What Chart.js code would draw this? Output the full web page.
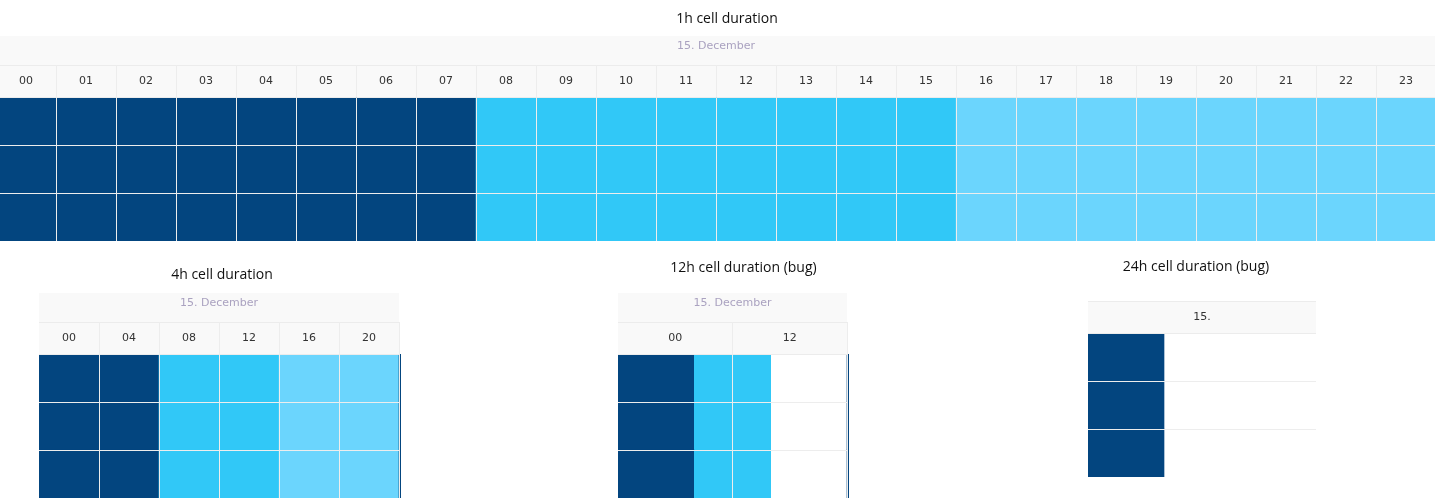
<!DOCTYPE html>
<html>
<head>
<meta charset="utf-8">
<script src="https://cdn.jsdelivr.net/npm/chart.js@4"></script>
<style>
  body { margin: 0; background: #fff; overflow: hidden; }
  canvas { position: absolute; }
</style>
</head>
<body>
<canvas id="c1h" width="1462" height="241" style="left:-4px;top:0px"></canvas>
<canvas id="c4h" width="366" height="243" style="left:39px;top:255px"></canvas>
<canvas id="c12h" width="251" height="243" style="left:618px;top:255px"></canvas>
<canvas id="c24h" width="240" height="222" style="left:1076px;top:255px"></canvas>
<script>
// rows of the heatmap (no labels shown)
const rowNames = ['Row 1', 'Row 2', 'Row 3'];
// 0 = night, 1 = day, 2 = evening
const levelColors = ['#03457f', '#31c8f7', '#6bd5fd'];
const dateLabel = '15. December';

// 1h cells
const labels1h = ['00','01','02','03','04','05','06','07','08','09','10','11','12','13','14','15','16','17','18','19','20','21','22','23'];
const start1h = [0,1,2,3,4,5,6,7,8,9,10,11,12,13,14,15,16,17,18,19,20,21,22,23];
const end1h = [1,2,3,4,5,6,7,8,9,10,11,12,13,14,15,16,17,18,19,20,21,22,23,24];
const level1h = [0,0,0,0,0,0,0,0,1,1,1,1,1,1,1,1,2,2,2,2,2,2,2,2];

// 4h cells (last one belongs to the next day)
const labels4h = ['00','04','08','12','16','20'];
const start4h = [0,4,8,12,16,20,24];
const end4h = [4,8,12,16,20,24,28];
const level4h = [0,0,1,1,2,2,0];

// 12h cells (bug)
const labels12h = ['00','12'];
const start12h = [0,8,12,24];
const end12h = [8,12,16,36];
const level12h = [0,1,1,0];

// 24h cells (bug)
const labels24h = ['15.'];
const start24h = [0];
const end24h = [8];
const level24h = [0];

function cells(starts, ends, levels) {
  const out = [];
  rowNames.forEach(r => {
    starts.forEach((s, i) => out.push({ x: [s, ends[i]], y: r, level: levels[i] }));
  });
  return out;
}

// grey header behind the top axis
const headerBand = {
  id: 'headerBand',
  beforeDraw(chart, args, opts) {
    const s = chart.scales.x2;
    const ctx = chart.ctx;
    ctx.save();
    ctx.fillStyle = '#f9f9f9';
    ctx.fillRect(s.left, s.top, s.width, s.height);
    ctx.fillStyle = '#ececec';
    ctx.fillRect(s.left, s.top + opts.split, s.width, 1);
    ctx.restore();
  }
};

function makeChart(id, cfg) {
  const nRows = rowNames.length;
  new Chart(document.getElementById(id), {
    type: 'bar',
    data: {
      datasets: [{
        data: cells(cfg.starts, cfg.ends, cfg.levels),
        backgroundColor: c => levelColors[c.raw.level],
        borderWidth: 0,
        barPercentage: 1,
        categoryPercentage: 1,
        xAxisID: 'x',
        yAxisID: 'y',
        clip: { left: 0, top: 0, right: 2, bottom: 0 }
      }]
    },
    plugins: [headerBand],
    options: {
      indexAxis: 'y',
      responsive: false,
      animation: false,
      layout: { padding: 0 },
      scales: {
        x: { type: 'linear', min: 0, max: 24, display: false },
        // empty side axis, only keeps the title off-centre like the original
        pad: {
          type: 'linear',
          axis: 'y',
          position: cfg.padSide,
          afterFit: s => { s.width = cfg.padWidth; },
          ticks: { display: false },
          grid: { display: false },
          border: { display: false }
        },
        x2: {
          type: 'category',
          position: 'top',
          labels: cfg.labels,
          offset: true,
          afterFit: s => { s.height = cfg.header; },
          grid: {
            offset: true,
            z: 1,
            color: c => c.index === 0 ? 'rgba(0,0,0,0)' : '#ededed',
            tickLength: cfg.header - cfg.split
          },
          border: { display: true, color: '#ececec', z: 1 },
          ticks: {
            autoSkip: false,
            maxRotation: 0,
            color: '#333',
            font: { family: 'DejaVu Sans', size: 11 },
            padding: 8.8 - (cfg.header - cfg.split),
            z: 1
          },
          title: {
            display: !!cfg.date,
            text: cfg.date || '',
            color: '#aaa2c0',
            font: { family: 'DejaVu Sans', size: 11 },
            padding: { top: 4, bottom: 0 }
          }
        },
        y: {
          type: 'category',
          labels: rowNames,
          offset: true,
          ticks: { display: false },
          border: { display: false },
          grid: {
            offset: true,
            z: 1,
            drawTicks: false,
            color: c => (c.index === 0 || c.index === nRows) ? 'rgba(0,0,0,0)' : '#ededed'
          }
        }
      },
      plugins: {
        legend: { display: false },
        tooltip: { enabled: false },
        headerBand: { split: cfg.split },
        title: {
          display: true,
          text: cfg.title,
          color: '#111',
          font: { family: 'Open Sans', size: 14, weight: 'normal', lineHeight: '16px' },
          padding: cfg.titlePad
        }
      }
    }
  });
}

makeChart('c1h', {
  title: '1h cell duration', date: dateLabel,
  labels: labels1h, starts: start1h, ends: end1h, levels: level1h,
  header: 61, split: 29, titlePad: { top: 11, bottom: 9 },
  padSide: 'right', padWidth: 22
});
makeChart('c4h', {
  title: '4h cell duration', date: dateLabel,
  labels: labels4h, starts: start4h, ends: end4h, levels: level4h,
  header: 61, split: 29, titlePad: { top: 12, bottom: 10 },
  padSide: 'right', padWidth: 6
});
makeChart('c12h', {
  title: '12h cell duration (bug)', date: dateLabel,
  labels: labels12h, starts: start12h, ends: end12h, levels: level12h,
  header: 61, split: 29, titlePad: { top: 5, bottom: 17 },
  padSide: 'right', padWidth: 22
});
makeChart('c24h', {
  title: '24h cell duration (bug)', date: null,
  labels: labels24h, starts: start24h, ends: end24h, levels: level24h,
  header: 32, split: 0, titlePad: { top: 4, bottom: 26 },
  padSide: 'left', padWidth: 12
});
</script>
</body>
</html>
